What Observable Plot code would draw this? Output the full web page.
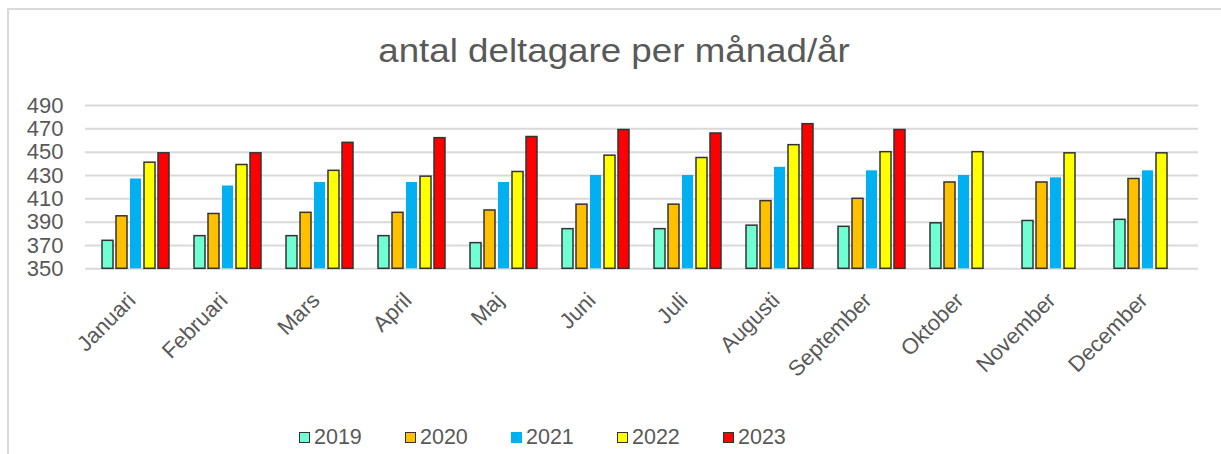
<!DOCTYPE html>
<html>
<head>
<meta charset="utf-8">
<script src="https://cdn.jsdelivr.net/npm/d3@7"></script>
<script src="https://cdn.jsdelivr.net/npm/@observablehq/plot@0.6"></script>
<style>
  body { margin: 0; background: #fff; width: 1221px; height: 454px; overflow: hidden; position: relative; }
  #frame { position: absolute; left: 7px; top: 8px; width: 1400px; height: 600px; border-left: 2px solid #d9d9d9; border-top: 2px solid #d9d9d9; }
  #title { position: absolute; left: 0; top: 33px; width: 1228px; text-align: center; font-family: "Liberation Sans", Arial, sans-serif; font-size: 34px; line-height: 34px; color: #595959; transform: scaleX(1.08); white-space: nowrap; }
  #grid, #chart { position: absolute; left: 0; top: 90px; }
  #legend { position: absolute; left: 299px; top: 420px; height: 34px; display: flex; align-items: center; font-family: "Liberation Sans", Arial, sans-serif; font-size: 21.5px; color: #595959; }
  .item { width: 106px; display: flex; align-items: center; }
  .sw { width: 11px; height: 11px; box-sizing: border-box; margin-right: 4px; }
</style>
</head>
<body>
<div id="frame"></div>
<div id="title">antal deltagare per månad/år</div>
<div id="grid"></div>
<div id="chart"></div>
<div id="legend"></div>
<script>
const months = ["Januari","Februari","Mars","April","Maj","Juni","Juli","Augusti","September","Oktober","November","December"];
const years = ["2019","2020","2021","2022","2023"];
const colors = ["#6fffd2","#ffc000","#00b0f0","#ffff00","#ff0000"];
const v2019 = [374, 378, 378, 378, 372, 384, 384, 387, 386, 389, 391, 392];
const v2020 = [395, 397, 398, 398, 400, 405, 405, 408, 410, 424, 424, 427];
const v2021 = [427, 421, 424, 424, 424, 430, 430, 437, 434, 430, 428, 434];
const v2022 = [441, 439, 434, 429, 433, 447, 445, 456, 450, 450, 449, 449];
const v2023 = [449, 449, 458, 462, 463, 469, 466, 474, 469];
const yTicks = [350, 370, 390, 410, 430, 450, 470, 490];

const series = {"2019": v2019, "2020": v2020, "2021": v2021, "2022": v2022, "2023": v2023};
const rows = [];
years.forEach(y => series[y].forEach((v, i) => rows.push({month: months[i], year: y, value: v})));
const yBase = yTicks[0];

const common = {
  width: 1221, height: 330,
  marginTop: 15, marginBottom: 151.7, marginLeft: 85, marginRight: 23,
  style: {fontFamily: "'Liberation Sans', Arial, sans-serif", color: "#595959", background: "transparent", overflow: "visible"},
  y: {domain: [yTicks[0], yTicks[yTicks.length - 1]], label: null}
};

// background gridlines spanning the whole frame
const grid = Plot.plot({
  ...common,
  marks: [
    Plot.gridY(yTicks, {stroke: "#d9d9d9", strokeWidth: 2, strokeOpacity: 1}),
    Plot.axisY(yTicks, {tickSize: 0, tickPadding: 22, fontSize: 22, label: null})
  ]
});
document.getElementById("grid").appendChild(grid);

const barOpts = {fx: "month", x: "year", y1: () => yBase, y2: "value", fill: "year"};
const chart = Plot.plot({
  ...common,
  fx: {domain: months, paddingInner: 0.25, paddingOuter: 0.125, label: null},
  x: {domain: years, paddingInner: 0.25, paddingOuter: 0, axis: null},
  color: {domain: years, range: colors},
  marks: [
    Plot.axisFx({anchor: "bottom", tickRotate: -45, tickSize: 0, tickPadding: 28, dx: -4, fontSize: 22, label: null}),
    Plot.axisY({ticks: [], label: null}),
    Plot.barY(rows.filter(d => d.year !== "2021"), {...barOpts, stroke: "#333", strokeWidth: 1.5}),
    Plot.barY(rows.filter(d => d.year === "2021"), {...barOpts})
  ]
});
document.getElementById("chart").appendChild(chart);

const legend = document.getElementById("legend");
years.forEach((y, i) => {
  const item = document.createElement("div");
  item.className = "item";
  const sw = document.createElement("div");
  sw.className = "sw";
  sw.style.background = colors[i];
  if (y !== "2021") sw.style.border = "1.5px solid #333";
  const t = document.createElement("span");
  t.textContent = y;
  item.appendChild(sw); item.appendChild(t);
  legend.appendChild(item);
});
</script>
</body>
</html>
